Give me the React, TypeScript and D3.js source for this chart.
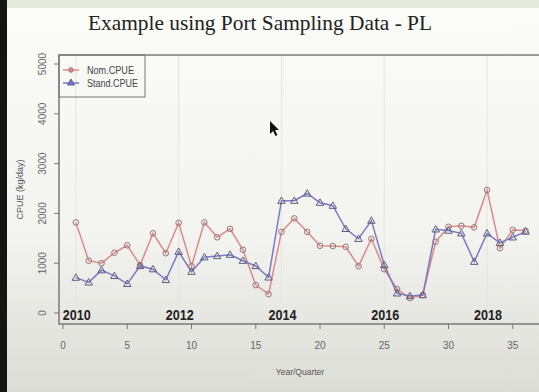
import React from "react";
import * as d3 from "d3";

// quarter index 1..36 (2010 Q1 .. 2018 Q4)
const quarters = d3.range(1, 37);
const nomCPUE = [1820, 1050, 1000, 1210, 1360, 960, 1600, 1200, 1810, 940, 1820, 1520, 1690, 1270, 560, 380, 1630, 1900, 1630, 1350, 1345, 1330, 940, 1490, 880, 480, 300, 360, 1430, 1730, 1750, 1720, 2470, 1300, 1670, 1650];
const standCPUE = [710, 615, 860, 745, 585, 945, 880, 665, 1230, 830, 1120, 1145, 1170, 1050, 945, 715, 2255, 2255, 2400, 2215, 2155, 1690, 1490, 1855, 965, 395, 340, 360, 1680, 1655, 1600, 1030, 1600, 1410, 1520, 1635];
const yearLabels = ["2010", "2012", "2014", "2016", "2018"];
const yearStarts = [1, 9, 17, 25, 33];
const xTicks = [0, 5, 10, 15, 20, 25, 30, 35];
const yTicks = [0, 1000, 2000, 3000, 4000, 5000];
const seriesNames = ["Nom.CPUE", "Stand.CPUE"];

const W = 539;
const H = 392;
const plot = { left: 59, top: 55, bottom: 324, right: 560 };

const RED = "#da8a88";
const BLUE = "#7a7ac6";

const App = () => {
  const x = d3.scaleLinear().domain([0, 35]).range([63, 512.75]);
  const y = d3.scaleLinear().domain([0, 5000]).range([313, 64]);

  const line = d3
    .line<number>()
    .x((d, i) => x(quarters[i]))
    .y(d => y(d));

  const tri = d3.symbol().type(d3.symbolTriangle).size(24);

  return (
    <svg width={W} height={H} style={{ position: "absolute", left: 0, top: 0 }}>
      <defs>
        <linearGradient id="bg" x1="0" y1="0" x2="0" y2="1">
          <stop offset="0" stopColor="#fbfbf8" />
          <stop offset="0.6" stopColor="#f3f3ef" />
          <stop offset="1" stopColor="#dcdcd7" />
        </linearGradient>
      </defs>
      <rect width={W} height={H} fill="url(#bg)" />
      <rect width={W} height={8} fill="#e6eadc" />
      <rect width={7} height={H} fill="#141414" />

      <text
        x={260}
        y={30}
        textAnchor="middle"
        fontFamily="Liberation Serif, serif"
        fontSize={22}
        fill="#222"
        textLength={344}
        lengthAdjust="spacingAndGlyphs"
      >
        Example using Port Sampling Data - PL
      </text>

      {/* year grid lines */}
      {yearStarts.map(q => (
        <line key={q} x1={x(q)} x2={x(q)} y1={plot.top} y2={plot.bottom} stroke="#e4e4e2" strokeWidth={1} />
      ))}

      {/* box */}
      <path
        d={`M${plot.right},${plot.top}H${plot.left}V${plot.bottom}H${plot.right}`}
        fill="none"
        stroke="#7a7a7a"
        strokeWidth={1.5}
      />

      {/* y axis */}
      {yTicks.map(t => (
        <g key={t}>
          <line x1={plot.left - 5} x2={plot.left} y1={y(t)} y2={y(t)} stroke="#777" />
          <text
            transform={`translate(46,${y(t)}) rotate(-90)`}
            textAnchor="middle"
            fontFamily="Liberation Sans, Arial, sans-serif"
            fontSize={10}
            fill="#666"
          >
            {t}
          </text>
        </g>
      ))}
      <text
        transform={`translate(23,${(plot.top + plot.bottom) / 2}) rotate(-90)`}
        textAnchor="middle"
        fontFamily="Liberation Sans, Arial, sans-serif"
        fontSize={9}
        fill="#555"
      >
        CPUE (kg/day)
      </text>

      {/* x axis */}
      {xTicks.map(t => (
        <g key={t}>
          <line x1={x(t)} x2={x(t)} y1={plot.bottom} y2={plot.bottom + 5} stroke="#777" />
          <text x={x(t)} y={349} textAnchor="middle" fontFamily="Liberation Sans, Arial, sans-serif" fontSize={10} fill="#666">
            {t}
          </text>
        </g>
      ))}
      <text x={300} y={375} textAnchor="middle" fontFamily="Liberation Sans, Arial, sans-serif" fontSize={8.5} fill="#555">
        Year/Quarter
      </text>

      {/* year labels */}
      {yearLabels.map((lab, i) => (
        <text
          key={lab}
          x={x(yearStarts[i]) + 1}
          y={320}
          textAnchor="middle"
          fontFamily="Liberation Sans Narrow, Liberation Sans, Arial, sans-serif"
          fontWeight="bold"
          fontSize={14}
          fill="#222"
          textLength={28}
          lengthAdjust="spacingAndGlyphs"
        >
          {lab}
        </text>
      ))}

      {/* series */}
      <path d={line(nomCPUE) || ""} fill="none" stroke={RED} strokeWidth={1.5} />
      <path d={line(standCPUE) || ""} fill="none" stroke={BLUE} strokeWidth={1.5} />
      {nomCPUE.map((v, i) => (
        <circle key={"n" + i} cx={x(quarters[i])} cy={y(v)} r={2.8} fill="none" stroke="#957575" strokeWidth={1} />
      ))}
      {standCPUE.map((v, i) => (
        <path
          key={"s" + i}
          d={tri() || ""}
          transform={`translate(${x(quarters[i])},${y(v) + 0.5})`}
          fill="none"
          stroke="#5c5c80"
          strokeWidth={1}
        />
      ))}

      {/* legend */}
      <rect x={plot.left} y={plot.top} width={86} height={42} fill="none" stroke="#777" strokeWidth={1} />
      <line x1={63} x2={79} y1={70} y2={70} stroke={RED} strokeWidth={1.5} />
      <circle cx={71} cy={70} r={2.3} fill={RED} stroke="#b07070" />
      <line x1={63} x2={79} y1={83} y2={83} stroke={BLUE} strokeWidth={1.5} />
      <path d={d3.symbol().type(d3.symbolTriangle).size(20)() || ""} transform="translate(71,83)" fill={BLUE} stroke="#5555a0" />
      {seriesNames.map((s, i) => (
        <text
          key={s}
          x={87}
          y={73.5 + i * 13}
          fontFamily="Liberation Sans Narrow, Liberation Sans, Arial, sans-serif"
          fontSize={10}
          fill="#444"
          textLength={i === 0 ? 47 : 51}
          lengthAdjust="spacingAndGlyphs"
        >
          {s}
        </text>
      ))}

      {/* mouse pointer */}
      <path d="M270,121 L270,134 L273,131 L275.5,136 L277.5,135 L275,130 L279,130 Z" fill="#111" />
    </svg>
  );
};

export default App;
